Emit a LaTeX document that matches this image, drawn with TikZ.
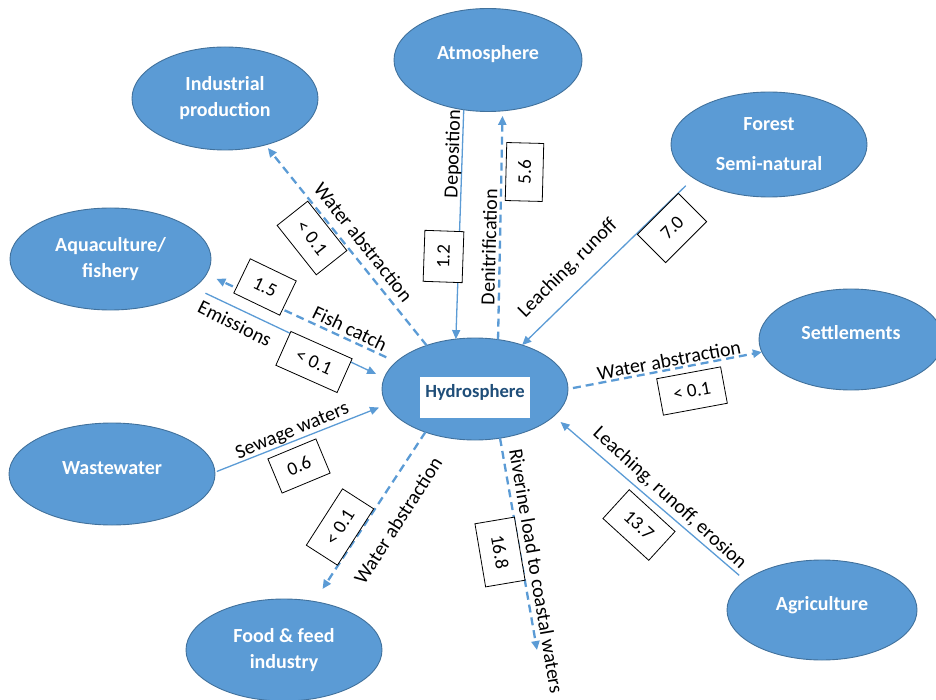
\documentclass[tikz,border=0pt]{standalone}
\usepackage{fontspec}
\setmainfont{Carlito}
\usetikzlibrary{arrows.meta,shapes.geometric}

\definecolor{poolfill}{HTML}{5B9BD5}
\definecolor{pooledge}{HTML}{41719C}
\definecolor{hydroname}{HTML}{1F4E79}

\tikzset{
  pool/.style={ellipse, draw=pooledge, line width=0.9pt, fill=poolfill,
    text=white, font=\fontsize{20}{26}\selectfont\bfseries,
    inner sep=0pt, outer sep=0pt, align=center},
  oneline/.style={text height=8pt, text depth=8pt},
  hydrotag/.style={fill=white, text=hydroname, inner sep=0pt,
    minimum width=110pt, minimum height=41pt, text height=7pt, text depth=7pt,
    font=\fontsize{18.6}{22}\selectfont\bfseries},
  flow/.style={draw=poolfill, line width=1.3pt, -{Triangle[length=9pt,width=8pt]}},
  flowdash/.style={flow, line width=2.3pt, dash pattern=on 8pt off 5pt},
  lbl/.style={font=\fontsize{20}{24}\selectfont, inner sep=0pt},
  valbox/.style={draw=black, line width=0.8pt, fill=white, inner sep=0pt,
    font=\fontsize{19}{22}\selectfont},
}

\begin{document}
\begin{tikzpicture}[x=1pt, y=-1pt]
\useasboundingbox (0,0) rectangle (936,700);

% nitrogen pools
\node[pool, oneline, minimum width=188pt, minimum height=103pt] (atm) at (488,60) {Atmosphere};
\node[pool, minimum width=186pt, minimum height=103pt] (ind) at (225,98.5) {Industrial\\production};
\node[pool, minimum width=196pt, minimum height=105pt] (forest) at (769,144.5) {Forest\\[14pt]Semi-natural};
\node[pool, minimum width=201pt, minimum height=102pt] (aqua) at (110.5,259) {Aquaculture/\\fishery};
\node[pool, oneline, minimum width=184pt, minimum height=101pt] (settle) at (851,339.5) {Settlements};
\node[pool, minimum width=186pt, minimum height=102pt] (hyd) at (475,389) {};
\node[hydrotag] (hydname) at (475,397.5) {Hydrosphere};
\node[pool, oneline, minimum width=206pt, minimum height=102pt] (waste) at (112,474) {Wastewater};
\node[pool, minimum width=196pt, minimum height=102pt] (food) at (284,650) {Food \& feed\\industry};
\node[pool, oneline, minimum width=190pt, minimum height=100pt] (agri) at (822,610) {Agriculture};
\coordinate (coast) at (537,650);

% fluxes
\draw[flow] (atm.-116.6) -- (hyd.111.4);
\draw[flowdash, shorten >=5pt] (hyd.65.7) -- (atm.-74);
\draw[flow, shorten <=11pt] (forest.-156.4) -- (hyd.43.2);
\draw[flowdash, shorten >=4pt] (hyd.138.3) -- (ind.-49);
\draw[flowdash, shorten <=11pt, shorten >=11pt] (hyd.161) -- (aqua.-9.6);
\draw[flow, shorten <=13pt, shorten >=9pt] (aqua.-19.8) -- (hyd.173.7);
\draw[flow, shorten <=2pt, shorten >=8pt] (waste.1.1) -- (hyd.-170.6);
\draw[flowdash, shorten >=15pt] (hyd.-139.7) -- (food.58.5);
\draw[flowdash, shorten <=5pt] (hyd.0.6) -- (settle.188.6);
\draw[flowdash] (hyd.-63) -- (coast);
\draw[flow, shorten <=8pt, shorten >=9pt] (agri.159.4) -- (hyd.-19.6);

% flux names and values
\node[lbl, rotate=88] (ldep) at (453.5,154) {Deposition};
\node[valbox, minimum width=51pt, minimum height=39pt, rotate=88] (vdep) at (443.5,256.5) {1.2};
\node[lbl, rotate=88.5] (lden) at (489,247) {Denitrification};
\node[valbox, minimum width=58pt, minimum height=37pt, rotate=88.5] (vden) at (524.5,172) {5.6};
\node[lbl, rotate=45] (lfor) at (568,268.5) {Leaching, runoff};
\node[valbox, minimum width=58pt, minimum height=40pt, rotate=45] (vfor) at (672,228) {7.0};
\node[lbl, rotate=-51.6] (lind) at (363.5,242) {Water abstraction};
\node[valbox, minimum width=63pt, minimum height=39pt, rotate=-51.6] (vind) at (312,238) {< 0.1};
\node[lbl, rotate=-25.7] (lfish) at (350,328.5) {Fish catch};
\node[valbox, minimum width=51pt, minimum height=38pt, rotate=-25.7] (vfish) at (265,287) {1.5};
\node[lbl, rotate=-26.6] (lemi) at (235,323.5) {Emissions};
\node[valbox, minimum width=67pt, minimum height=37pt, rotate=-24] (vemi) at (314,362) {< 0.1};
\node[lbl, rotate=22.6] (lsew) at (292.5,431.5) {Sewage waters};
\node[valbox, minimum width=52pt, minimum height=37pt, rotate=22.6] (vsew) at (299,466) {0.6};
\node[lbl, rotate=57.3] (lfood) at (398,520.5) {Water abstraction};
\node[valbox, minimum width=67pt, minimum height=37pt, rotate=57.3] (vfood) at (340,527) {< 0.1};
\node[lbl, rotate=10.5] (lset) at (669,360) {Water abstraction};
\node[valbox, minimum width=65pt, minimum height=37pt, rotate=10.5] (vset) at (692,391) {< 0.1};
\node[lbl, rotate=-80.4] (lriv) at (536.5,571) {Riverine load to coastal waters};
\node[valbox, minimum width=64pt, minimum height=40pt, rotate=-80.4] (vriv) at (500,552) {16.8};
\node[lbl, rotate=-42.4] (lagr) at (669.5,498.5) {Leaching, runoff, erosion};
\node[valbox, minimum width=62pt, minimum height=39pt, rotate=-42.4] (vagr) at (639,525) {13.7};
\end{tikzpicture}
\end{document}
